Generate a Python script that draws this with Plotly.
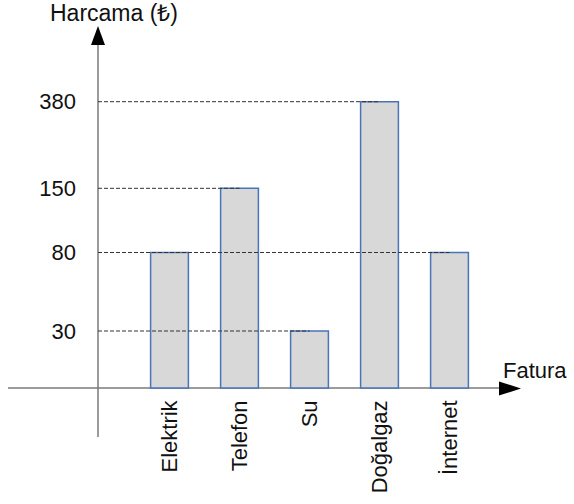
import numpy as np
import plotly.graph_objects as go

# ---- data ----
categories = ["Elektrik", "Telefon", "Su", "Doğalgaz", "İnternet"]
values = [80, 150, 30, 380, 80]
tick_values = [30, 80, 150, 380]
y_title = "Harcama (₺)"
x_title = "Fatura"

# ---- not-to-scale (broken) y axis: height of each level above baseline ----
scale_levels = [0, 30, 80, 150, 380]
scale_heights = [0, 57, 135.5, 199.7, 286.3]


def yscale(v):
    return np.interp(v, scale_levels, scale_heights)


# ---- canvas geometry ----
W, H = 574, 504
X0_PX, STEP = 169.5, 70.0   # pixel of first category centre, pixels per category
BASE_PX = 388               # pixel row of the baseline
YAXIS_PX = 98               # pixel column of the y axis


def px_x(p):
    return (p - X0_PX) / STEP


def px_y(p):
    return BASE_PX - p


def pap(px, py):
    return px / W, 1 - py / H


FONT = "Liberation Sans"
AXIS_COLOR = "#7a7a7a"

fig = go.Figure()
fig.add_trace(go.Bar(
    x=categories,
    y=yscale(values),
    width=0.54,
    marker=dict(color="#d8d8d8", line=dict(color="#4a74b8", width=1.5)),
    customdata=values,
    hovertemplate="%{x}: %{customdata} ₺<extra></extra>",
))

shapes = []
# dashed guide lines from the y axis to the (rightmost) bar with that value
for v in tick_values:
    idx = max(i for i, val in enumerate(values) if val == v)
    shapes.append(dict(type="line", xref="x", yref="y",
                       x0=px_x(YAXIS_PX), x1=idx, y0=yscale(v), y1=yscale(v),
                       line=dict(color="#333333", width=1, dash="4px,2px"),
                       layer="above"))

# axis lines
shapes.append(dict(type="line", xref="paper", yref="y",
                   x0=8 / W, x1=499 / W, y0=0, y1=0,
                   line=dict(color=AXIS_COLOR, width=1.5), layer="below"))
shapes.append(dict(type="line", xref="paper", yref="paper",
                   x0=YAXIS_PX / W, x1=YAXIS_PX / W, y0=1 - 437 / H, y1=1 - 45 / H,
                   line=dict(color=AXIS_COLOR, width=1.5), layer="below"))


def tri(points):
    pts = [pap(*p) for p in points]
    return "M " + " L ".join(f"{a:.5f},{b:.5f}" for a, b in pts) + " Z"


shapes.append(dict(type="path", xref="paper", yref="paper",
                   path=tri([(98, 26), (91, 45), (105, 45)]),
                   fillcolor="black", line=dict(width=0)))
shapes.append(dict(type="path", xref="paper", yref="paper",
                   path=tri([(521, 388.5), (499, 381.5), (499, 395.5)]),
                   fillcolor="black", line=dict(width=0)))

annotations = [
    dict(text=y_title, xref="paper", yref="paper",
         x=113.8 / W, y=1 - 12.5 / H, xanchor="center", yanchor="middle",
         showarrow=False, font=dict(family=FONT, size=23, color="#111")),
    dict(text=x_title, xref="paper", yref="paper",
         x=501 / W, y=1 - 370 / H, xanchor="left", yanchor="middle",
         showarrow=False, font=dict(family=FONT, size=22, color="#111")),
]

fig.update_layout(
    width=W, height=H,
    margin=dict(l=0, r=0, t=0, b=0),
    paper_bgcolor="white", plot_bgcolor="white",
    showlegend=False,
    font=dict(family=FONT, size=22, color="#111"),
    shapes=shapes,
    annotations=annotations,
    xaxis=dict(
        type="category", range=[px_x(0), px_x(W)],
        anchor="free", position=1 - BASE_PX / H,
        showline=False, showgrid=False, zeroline=False,
        ticks="", tickangle=-90, ticklabelstandoff=7,
        tickfont=dict(family=FONT, size=22, color="#111"),
    ),
    yaxis=dict(
        range=[px_y(H), px_y(0)],
        anchor="free", position=YAXIS_PX / W,
        showline=False, showgrid=False, zeroline=False,
        tickvals=list(yscale(tick_values)),
        ticktext=[str(v) for v in tick_values],
        ticks="", ticklabelstandoff=22,
        tickfont=dict(family=FONT, size=22, color="#111"),
    ),
)

fig.write_html("out.html", config={"displayModeBar": False},
               post_script="document.body.style.margin='0px';")
